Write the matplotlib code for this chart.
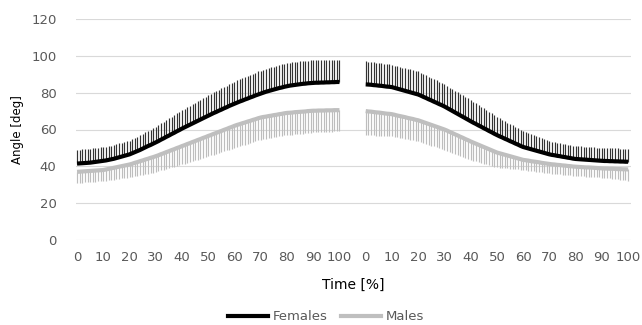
import matplotlib
matplotlib.use("Agg")
import matplotlib.pyplot as plt
import numpy as np
from matplotlib.lines import Line2D

plt.rcParams['font.family'] = ['DejaVu Sans']

# time axis: two cycles of 0..100 %, second one shifted by a gap
t = np.arange(101)
offset = 110
tick_vals = list(range(0, 101, 10))

# ---- first cycle ----
fem1 = [41.5,41.6,41.7,41.8,41.9,42.0,42.2,42.4,42.6,42.8,
        43.0,43.2,43.5,43.8,44.1,44.5,44.9,45.3,45.7,46.1,
        46.5,47.1,47.7,48.3,48.9,49.6,50.3,51.0,51.6,52.3,
        53.0,53.7,54.5,55.2,56.0,56.7,57.5,58.2,59.0,59.7,
        60.5,61.2,61.9,62.6,63.3,64.0,64.7,65.4,66.1,66.8,
        67.5,68.2,68.9,69.5,70.2,70.8,71.5,72.1,72.8,73.4,
        74.0,74.6,75.2,75.7,76.3,76.8,77.4,77.9,78.5,79.0,
        79.5,80.0,80.5,80.9,81.3,81.7,82.1,82.5,82.8,83.2,
        83.5,83.8,84.0,84.2,84.4,84.6,84.8,84.9,85.1,85.2,
        85.3,85.4,85.4,85.5,85.5,85.6,85.6,85.7,85.7,85.8,85.8]
fem1_sd = [7.5]*20 + \
          [7.5,7.6,7.7,7.8,7.9,8.0,8.1,8.2,8.3,8.4,
           8.5,8.7,8.8,9.0,9.1,9.3,9.4,9.6,9.7,9.9,
           10.0,10.1,10.2,10.3,10.4,10.5,10.6,10.7,10.8,10.9,
           11.0,11.1,11.2,11.3,11.4,11.5,11.6,11.7,11.8,11.9,
           12.0,12.1,12.1,12.2,12.2,12.3,12.3,12.4,12.4,12.5] + [12.5]*10 + \
          [12.5,12.5,12.5,12.4,12.4,12.4,12.4,12.3,12.3,12.3,
           12.3,12.3,12.2,12.2,12.2,12.1,12.1,12.1,12.0,12.0,12.0]
mal1 = [37.0,37.1,37.2,37.3,37.4,37.5,37.6,37.7,37.8,37.9,
        38.0,38.3,38.6,38.9,39.2,39.5,39.8,40.1,40.4,40.7,
        41.0,41.4,41.9,42.3,42.8,43.2,43.7,44.1,44.6,45.0,
        45.5,46.0,46.6,47.1,47.7,48.2,48.8,49.3,49.9,50.4,
        51.0,51.5,52.1,52.6,53.2,53.7,54.3,54.8,55.4,55.9,
        56.5,57.0,57.6,58.1,58.7,59.2,59.8,60.3,60.9,61.4,
        62.0,62.5,62.9,63.4,63.8,64.3,64.7,65.2,65.6,66.1,
        66.5,66.8,67.0,67.3,67.5,67.8,68.0,68.3,68.5,68.8,
        69.0,69.1,69.2,69.4,69.5,69.6,69.7,69.8,70.0,70.1,
        70.2,70.2,70.3,70.3,70.3,70.4,70.4,70.4,70.5,70.5,70.5]
mal1_sd = [6.0]*10 + \
          [6.0,6.1,6.2,6.3,6.4,6.5,6.6,6.7,6.8,6.9,
           7.0,7.2,7.3,7.5,7.6,7.8,7.9,8.1,8.2,8.4,
           8.5,8.7,8.8,9.0,9.1,9.3,9.4,9.6,9.7,9.9,
           10.0,10.1,10.2,10.3,10.4,10.5,10.6,10.7,10.8,10.9,
           11.0,11.1,11.2,11.3,11.4,11.5,11.6,11.7,11.8,11.9] + [12.0]*20 + \
          [12.0,12.0,12.0,11.9,11.9,11.9,11.9,11.9,11.8,11.8,
           11.8,11.8,11.7,11.7,11.7,11.6,11.6,11.6,11.5,11.5,11.5]

# ---- second cycle ----
fem2 = [84.5,84.4,84.3,84.1,84.0,83.8,83.7,83.5,83.3,83.2,
        83.0,82.6,82.2,81.8,81.4,81.0,80.6,80.2,79.8,79.4,
        79.0,78.4,77.7,77.1,76.4,75.8,75.1,74.5,73.8,73.2,
        72.5,71.7,70.9,70.1,69.3,68.5,67.7,66.9,66.1,65.3,
        64.5,63.7,63.0,62.2,61.5,60.7,60.0,59.2,58.5,57.7,
        57.0,56.3,55.7,55.0,54.4,53.7,53.1,52.4,51.8,51.1,
        50.5,50.1,49.7,49.3,48.9,48.5,48.1,47.7,47.3,46.9,
        46.5,46.2,46.0,45.7,45.5,45.2,45.0,44.7,44.5,44.2,
        44.0,43.9,43.8,43.7,43.6,43.5,43.4,43.3,43.2,43.1,
        43.0,42.9,42.9,42.8,42.8,42.7,42.7,42.6,42.6,42.5,42.5]
fem2_sd = [12.5,12.5,12.4,12.4,12.3,12.3,12.2,12.2,12.1,12.1,
           12.0,12.1,12.1,12.2,12.2,12.3,12.3,12.4,12.4,12.5,
           12.5,12.5,12.4,12.4,12.3,12.3,12.2,12.2,12.1,12.1,
           12.0,12.0,11.9,11.9,11.8,11.8,11.7,11.7,11.6,11.6,
           11.5,11.4,11.2,11.1,10.9,10.8,10.6,10.5,10.3,10.2,
           10.0,9.9,9.7,9.6,9.4,9.3,9.1,9.0,8.8,8.7,
           8.5,8.4,8.2,8.1,7.9,7.8,7.6,7.5,7.3,7.2] + [7.0]*31
mal2 = [70.0,69.8,69.7,69.5,69.3,69.2,69.0,68.8,68.6,68.5,
        68.3,68.0,67.6,67.3,67.0,66.7,66.3,66.0,65.7,65.3,
        65.0,64.5,64.0,63.5,63.0,62.5,62.0,61.5,61.0,60.5,
        60.0,59.4,58.7,58.1,57.4,56.8,56.1,55.5,54.8,54.2,
        53.5,52.9,52.3,51.7,51.1,50.5,49.9,49.3,48.7,48.1,
        47.5,47.1,46.7,46.3,45.9,45.5,45.1,44.7,44.3,43.9,
        43.5,43.3,43.1,42.8,42.6,42.4,42.2,41.9,41.7,41.5,
        41.3,41.1,41.0,40.8,40.7,40.5,40.4,40.2,40.1,39.9,
        39.8,39.7,39.6,39.5,39.4,39.4,39.3,39.2,39.1,39.0,
        38.9,38.8,38.8,38.7,38.7,38.6,38.5,38.5,38.4,38.4,38.3]
mal2_sd = [13.0,12.9,12.8,12.7,12.6,12.5,12.4,12.3,12.2,12.1,
           12.0,12.0,11.9,11.9,11.8,11.8,11.7,11.7,11.6,11.6,
           11.5,11.5,11.4,11.4,11.3,11.3,11.2,11.2,11.1,11.1,
           11.0,10.9,10.8,10.7,10.6,10.5,10.4,10.3,10.2,10.1,
           10.0,9.8,9.6,9.4,9.2,9.0,8.8,8.6,8.4,8.2,
           8.0,7.8,7.5,7.3,7.0,6.8,6.5,6.3,6.0,5.8,
           5.5,5.5,5.4,5.4,5.3,5.3,5.2,5.2,5.1,5.1] + [5.0]*21 + \
          [5.1,5.2,5.3,5.4,5.5,5.6,5.7,5.8,5.9,6.0]

fem_col = 'black'
fem_bar = '#333333'
mal_col = '#bfbfbf'
mal_bar = '#bdbdbd'

fig = plt.figure(figsize=(6.42, 3.25), dpi=100)
ax = fig.add_axes([76/642, 1-240/325, 555/642, 221/325])

for x0, f, fs, m, ms in [(0, fem1, fem1_sd, mal1, mal1_sd),
                         (offset, fem2, fem2_sd, mal2, mal2_sd)]:
    xs = t + x0
    f = np.array(f); fs = np.array(fs)
    m = np.array(m); ms = np.array(ms)
    ax.vlines(xs, m - ms, m, color=mal_bar, lw=0.85, zorder=2)
    ax.vlines(xs, f, f + fs, color=fem_bar, lw=0.85, zorder=2)
    ax.plot(xs, m, color=mal_col, lw=3.0, zorder=3, solid_capstyle='butt')
    ax.plot(xs, f, color=fem_col, lw=3.0, zorder=4, solid_capstyle='butt')

ax.set_xlim(-0.4, 211.1)
ax.set_ylim(0, 120)
ax.set_yticks(range(0, 121, 20))
xt = tick_vals + [v + offset for v in tick_vals]
ax.set_xticks(xt)
ax.set_xticklabels([str(v) for v in tick_vals] * 2)
ax.grid(axis='y', color='#d9d9d9', lw=0.8)
ax.set_axisbelow(True)
for s in ax.spines.values():
    s.set_visible(False)
ax.tick_params(length=0, labelsize=9.5, colors='#595959', pad=8)
ax.tick_params(axis='y', pad=14)

ax.set_ylabel('Angle [deg]', fontsize=8.5, color='black', labelpad=5)
ax.set_xlabel('Time [%]', fontsize=10, color='black', labelpad=10)

handles = [Line2D([], [], color=fem_col, lw=3.0),
           Line2D([], [], color=mal_col, lw=3.0)]
fig.legend(handles, ['Females', 'Males'], loc='center', bbox_to_anchor=(0.508, 0.025),
           ncol=2, frameon=False, fontsize=9.5, labelcolor='#595959',
           handlelength=3.0, handletextpad=0.4, columnspacing=1.0)

fig.savefig('out.png', dpi=100)
